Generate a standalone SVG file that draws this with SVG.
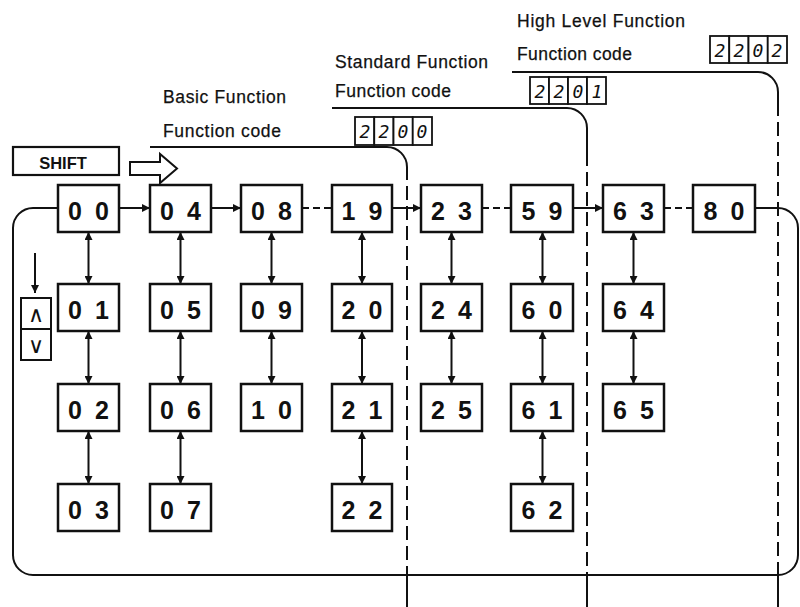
<svg xmlns="http://www.w3.org/2000/svg" width="800" height="607" viewBox="0 0 800 607">
<style>
.lbl{font-family:"Liberation Sans",Arial,sans-serif;font-size:17.5px;fill:#111;stroke:#111;stroke-width:0.25}
.box{fill:#fff;stroke:#111;stroke-width:2.5}
.num{font-family:"Liberation Sans",Arial,sans-serif;font-weight:bold;font-size:25px;letter-spacing:3px;fill:#111;text-anchor:middle}
.seg{font-family:"DejaVu Sans Mono",monospace;font-style:italic;font-size:18px;fill:#111;text-anchor:middle}
.cell{fill:#fff;stroke:#111;stroke-width:1.8}
.ln{fill:none;stroke:#111;stroke-width:2}
.dash{fill:none;stroke:#111;stroke-width:2;stroke-dasharray:7 4}
.vdash{fill:none;stroke:#111;stroke-width:2;stroke-dasharray:14 6}
.arr{fill:none;stroke:#111;stroke-width:2;marker-end:url(#ah)}
.dbl{fill:none;stroke:#111;stroke-width:2;marker-start:url(#ah);marker-end:url(#ah)}
</style>
<defs>
<marker id="ah" viewBox="0 0 10 10" refX="10" refY="5" markerWidth="9" markerHeight="8" markerUnits="userSpaceOnUse" orient="auto-start-reverse">
<path d="M0,0 L10,5 L0,10 z" fill="#111"/>
</marker>
</defs>
<rect width="800" height="607" fill="#fff"/>

<!-- group headers -->
<g id="high-level">
<text class="lbl" x="517" y="27" textLength="168" lengthAdjust="spacing">High Level Function</text>
<text class="lbl" x="517" y="60" textLength="115" lengthAdjust="spacing">Function code</text>
<g id="code-2202">
<rect class="cell" x="710" y="36" width="19.25" height="27"/>
<rect class="cell" x="729.25" y="36" width="19.25" height="27"/>
<rect class="cell" x="748.5" y="36" width="19.25" height="27"/>
<rect class="cell" x="767.75" y="36" width="19.25" height="27"/>
<text class="seg" x="720" y="57">2</text>
<text class="seg" x="739" y="57">2</text>
<text class="seg" x="758" y="57">0</text>
<text class="seg" x="777" y="57">2</text>
</g>
</g>
<g id="standard">
<text class="lbl" x="335" y="68" textLength="153" lengthAdjust="spacing">Standard Function</text>
<text class="lbl" x="335" y="97" textLength="116" lengthAdjust="spacing">Function code</text>
<g id="code-2201">
<rect class="cell" x="530" y="77" width="19" height="27"/>
<rect class="cell" x="549" y="77" width="19" height="27"/>
<rect class="cell" x="568" y="77" width="19" height="27"/>
<rect class="cell" x="587" y="77" width="19" height="27"/>
<text class="seg" x="540" y="98">2</text>
<text class="seg" x="559" y="98">2</text>
<text class="seg" x="578" y="98">0</text>
<text class="seg" x="597" y="98">1</text>
</g>
</g>
<g id="basic">
<text class="lbl" x="163" y="103" textLength="123" lengthAdjust="spacing">Basic Function</text>
<text class="lbl" x="163" y="137" textLength="118" lengthAdjust="spacing">Function code</text>
<g id="code-2200">
<rect class="cell" x="355" y="117" width="19.25" height="28"/>
<rect class="cell" x="374.25" y="117" width="19.25" height="28"/>
<rect class="cell" x="393.5" y="117" width="19.25" height="28"/>
<rect class="cell" x="412.75" y="117" width="19.25" height="28"/>
<text class="seg" x="365" y="138">2</text>
<text class="seg" x="384" y="138">2</text>
<text class="seg" x="403" y="138">0</text>
<text class="seg" x="422" y="138">0</text>
</g>
</g>

<!-- SHIFT key and hollow arrow -->
<g id="shift">
<rect x="13" y="147" width="106" height="28" fill="#fff" stroke="#111" stroke-width="2.2"/>
<text x="63" y="169" font-family="Liberation Sans,Arial,sans-serif" font-weight="bold" font-size="16.5" text-anchor="middle" fill="#111">SHIFT</text>
<path d="M130,162 H160 V154 L177,168.5 L160,183 V175 H130 Z" fill="#fff" stroke="#111" stroke-width="2"/>
</g>

<!-- up/down keys -->
<g id="updown">
<line class="arr" x1="35" y1="253" x2="35" y2="293"/>
<rect x="21" y="298" width="30" height="31" fill="#fff" stroke="#111" stroke-width="2"/>
<rect x="21" y="329" width="30" height="31" fill="#fff" stroke="#111" stroke-width="2"/>
<text x="36" y="322" font-family="DejaVu Sans,sans-serif" font-size="22" text-anchor="middle" fill="#111">∧</text>
<text x="36" y="353" font-family="DejaVu Sans,sans-serif" font-size="22" text-anchor="middle" fill="#111">∨</text>
</g>

<!-- connectors -->
<g id="connectors">
<!-- group brackets -->
<path class="ln" d="M150,147 H387 A20,20 0 0 1 407,167 V180"/>
<path class="vdash" d="M407,186 V575"/>
<path class="ln" d="M407,575 V607"/>
<path class="ln" d="M332,108 H567 A20,20 0 0 1 587,128 V166"/>
<path class="vdash" d="M587,172 V575"/>
<path class="ln" d="M587,575 V607"/>
<path class="ln" d="M512,72 H758 A20,20 0 0 1 778,92 V116"/>
<path class="vdash" d="M778,122 V575"/>
<path class="ln" d="M778,575 V607"/>
<!-- loop -->
<path class="ln" d="M755,208 H778 A20,20 0 0 1 798,228 V555 A20,20 0 0 1 778,575 H33 A20,20 0 0 1 13,555 V228 A20,20 0 0 1 33,208 H58"/>
<!-- row 1 horizontal -->
<line class="arr" x1="119" y1="208" x2="150" y2="208"/>
<line class="arr" x1="211" y1="208" x2="241" y2="208"/>
<line class="dash" x1="302" y1="208" x2="332" y2="208"/>
<line class="arr" x1="392" y1="208" x2="421" y2="208"/>
<line class="dash" x1="482" y1="208" x2="511" y2="208"/>
<line class="arr" x1="573" y1="208" x2="603" y2="208"/>
<line class="dash" x1="664" y1="208" x2="693" y2="208"/>
<!-- vertical double arrows -->
<line class="dbl" x1="88.5" y1="232" x2="88.5" y2="284"/>
<line class="dbl" x1="88.5" y1="331" x2="88.5" y2="384"/>
<line class="dbl" x1="88.5" y1="431" x2="88.5" y2="484"/>
<line class="dbl" x1="180.5" y1="232" x2="180.5" y2="284"/>
<line class="dbl" x1="180.5" y1="331" x2="180.5" y2="384"/>
<line class="dbl" x1="180.5" y1="431" x2="180.5" y2="484"/>
<line class="dbl" x1="271.5" y1="232" x2="271.5" y2="284"/>
<line class="dbl" x1="271.5" y1="331" x2="271.5" y2="384"/>
<line class="dbl" x1="362" y1="232" x2="362" y2="284"/>
<line class="dbl" x1="362" y1="331" x2="362" y2="384"/>
<line class="dbl" x1="362" y1="431" x2="362" y2="484"/>
<line class="dbl" x1="451.5" y1="232" x2="451.5" y2="284"/>
<line class="dbl" x1="451.5" y1="331" x2="451.5" y2="384"/>
<line class="dbl" x1="542.5" y1="232" x2="542.5" y2="284"/>
<line class="dbl" x1="542.5" y1="331" x2="542.5" y2="384"/>
<line class="dbl" x1="542.5" y1="431" x2="542.5" y2="484"/>
<line class="dbl" x1="633.5" y1="232" x2="633.5" y2="284"/>
<line class="dbl" x1="633.5" y1="331" x2="633.5" y2="384"/>
</g>

<!-- nodes -->
<g id="n00"><rect class="box" x="58" y="185" width="61" height="47"/><text class="num" x="90" y="220">0 0</text></g>
<g id="n04"><rect class="box" x="150" y="185" width="61" height="47"/><text class="num" x="182" y="220">0 4</text></g>
<g id="n08"><rect class="box" x="241" y="185" width="61" height="47"/><text class="num" x="273" y="220">0 8</text></g>
<g id="n19"><rect class="box" x="332" y="185" width="60" height="47"/><text class="num" x="363.5" y="220">1 9</text></g>
<g id="n23"><rect class="box" x="421" y="185" width="61" height="47"/><text class="num" x="453" y="220">2 3</text></g>
<g id="n59"><rect class="box" x="511" y="185" width="62" height="47"/><text class="num" x="543.5" y="220">5 9</text></g>
<g id="n63"><rect class="box" x="603" y="185" width="61" height="47"/><text class="num" x="635" y="220">6 3</text></g>
<g id="n80"><rect class="box" x="693" y="185" width="62" height="47"/><text class="num" x="725.5" y="220">8 0</text></g>

<g id="n01"><rect class="box" x="58" y="284" width="61" height="47"/><text class="num" x="90" y="319">0 1</text></g>
<g id="n05"><rect class="box" x="150" y="284" width="61" height="47"/><text class="num" x="182" y="319">0 5</text></g>
<g id="n09"><rect class="box" x="241" y="284" width="61" height="47"/><text class="num" x="273" y="319">0 9</text></g>
<g id="n20"><rect class="box" x="332" y="284" width="60" height="47"/><text class="num" x="363.5" y="319">2 0</text></g>
<g id="n24"><rect class="box" x="421" y="284" width="61" height="47"/><text class="num" x="453" y="319">2 4</text></g>
<g id="n60"><rect class="box" x="511" y="284" width="62" height="47"/><text class="num" x="543.5" y="319">6 0</text></g>
<g id="n64"><rect class="box" x="603" y="284" width="61" height="47"/><text class="num" x="635" y="319">6 4</text></g>

<g id="n02"><rect class="box" x="58" y="384" width="61" height="47"/><text class="num" x="90" y="419">0 2</text></g>
<g id="n06"><rect class="box" x="150" y="384" width="61" height="47"/><text class="num" x="182" y="419">0 6</text></g>
<g id="n10"><rect class="box" x="241" y="384" width="61" height="47"/><text class="num" x="273" y="419">1 0</text></g>
<g id="n21"><rect class="box" x="332" y="384" width="60" height="47"/><text class="num" x="363.5" y="419">2 1</text></g>
<g id="n25"><rect class="box" x="421" y="384" width="61" height="47"/><text class="num" x="453" y="419">2 5</text></g>
<g id="n61"><rect class="box" x="511" y="384" width="62" height="47"/><text class="num" x="543.5" y="419">6 1</text></g>
<g id="n65"><rect class="box" x="603" y="384" width="61" height="47"/><text class="num" x="635" y="419">6 5</text></g>

<g id="n03"><rect class="box" x="58" y="484" width="61" height="47"/><text class="num" x="90" y="519">0 3</text></g>
<g id="n07"><rect class="box" x="150" y="484" width="61" height="47"/><text class="num" x="182" y="519">0 7</text></g>
<g id="n22"><rect class="box" x="332" y="484" width="60" height="47"/><text class="num" x="363.5" y="519">2 2</text></g>
<g id="n62"><rect class="box" x="511" y="484" width="62" height="47"/><text class="num" x="543.5" y="519">6 2</text></g>
</svg>
